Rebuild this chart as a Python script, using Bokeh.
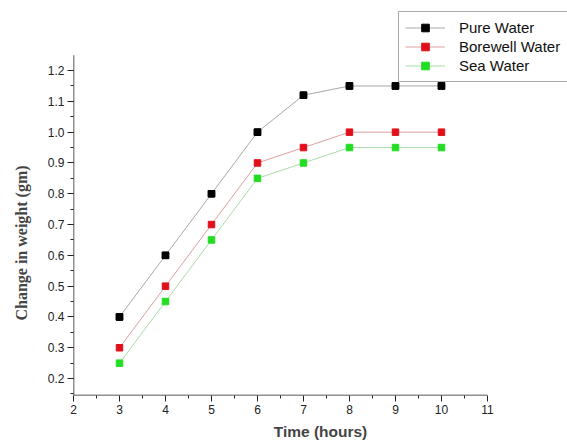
from bokeh.plotting import figure
from bokeh.models import Legend, LegendItem, Range1d, FixedTicker, CustomJSTickFormatter
from bokeh.embed import file_html
from bokeh.resources import INLINE

hours = [3, 4, 5, 6, 7, 8, 9, 10]
pure_water = [0.40, 0.60, 0.80, 1.00, 1.12, 1.15, 1.15, 1.15]
borewell_water = [0.30, 0.50, 0.70, 0.90, 0.95, 1.00, 1.00, 1.00]
sea_water = [0.25, 0.45, 0.65, 0.85, 0.90, 0.95, 0.95, 0.95]

x_ticks = [2, 3, 4, 5, 6, 7, 8, 9, 10, 11]
y_ticks = [0.2, 0.3, 0.4, 0.5, 0.6, 0.7, 0.8, 0.9, 1.0, 1.1, 1.2]

series = [
    ("Pure Water", pure_water, "#000000", "#a8a8a8"),
    ("Borewell Water", borewell_water, "#e0101a", "#dca0a0"),
    ("Sea Water", sea_water, "#22dd22", "#a8dca8"),
]

X0, X1 = 2, 11
Y0, Y1 = 0.145, 1.25

# frame extends beyond the axes so the legend (which overlaps the top-right) is not clipped
p = figure(width=567, height=443, output_backend="svg", toolbar_location=None,
           x_range=Range1d(X0, 12.74), y_range=Range1d(Y0, 1.395),
           min_border_left=73, min_border_right=0, min_border_top=10, min_border_bottom=48)
p.outline_line_color = None
p.grid.visible = False

items = []
for name, vals, mc, lc in series:
    r1 = p.line(hours, vals, line_color=lc, line_width=1)
    r2 = p.scatter(hours, vals, marker="square", size=6.5, fill_color=mc, line_color=mc)
    items.append(LegendItem(label=name, renderers=[r1, r2]))
    if name == "Pure Water":
        p.scatter(hours, vals, marker="square", size=6.5, fill_color=mc,
                  line_color=mc, level="overlay")

# axis lines limited to the axis extent
p.segment(x0=[X0, X0], y0=[Y0, Y0], x1=[X1, X0], y1=[Y0, Y1],
          line_color="#222222", line_width=1.5)

p.xaxis.ticker = FixedTicker(ticks=x_ticks, minor_ticks=[x + 0.5 for x in x_ticks[:-1]])
p.yaxis.ticker = FixedTicker(ticks=y_ticks,
                             minor_ticks=[0.15 + 0.05 * i for i in range(22)])
p.yaxis.formatter = CustomJSTickFormatter(code="return tick.toFixed(1);")

for ax in (p.xaxis, p.yaxis):
    ax.axis_line_color = None
    ax.major_tick_line_color = "#222222"
    ax.minor_tick_line_color = "#222222"
    ax.major_tick_out = 6
    ax.major_tick_in = 0
    ax.minor_tick_out = 3
    ax.minor_tick_in = 0
    ax.major_label_text_font = "Liberation Sans"
    ax.major_label_text_font_size = "12px"
    ax.major_label_text_color = "#222222"
    ax.major_label_standoff = 3

p.xaxis.axis_label = "Time (hours)"
p.xaxis.axis_label_text_font = "Liberation Sans"
p.xaxis.axis_label_text_font_style = "bold"
p.xaxis.axis_label_text_font_size = "15.5px"
p.xaxis.axis_label_standoff = 6

# trailing non-breaking spaces shift the centred label down to where the reference has it
p.yaxis.axis_label = "Change in weight (gm)" + "\u00a0" * 20
p.yaxis.axis_label_text_font = "Liberation Serif"
p.yaxis.axis_label_text_font_style = "bold"
p.yaxis.axis_label_text_font_size = "16px"
p.yaxis.axis_label_standoff = 15

legend = Legend(items=items, location=(325, 313), orientation="vertical",
                label_text_font="Liberation Sans", label_text_font_size="15px",
                label_text_color="#111111",
                border_line_color="#555555", border_line_width=1.5,
                background_fill_alpha=1.0,
                glyph_width=40, glyph_height=19, label_height=19,
                label_standoff=14, spacing=0, padding=6, margin=0, label_width=130)
p.add_layout(legend, "center")

open("out.html", "w").write(file_html(p, INLINE))
